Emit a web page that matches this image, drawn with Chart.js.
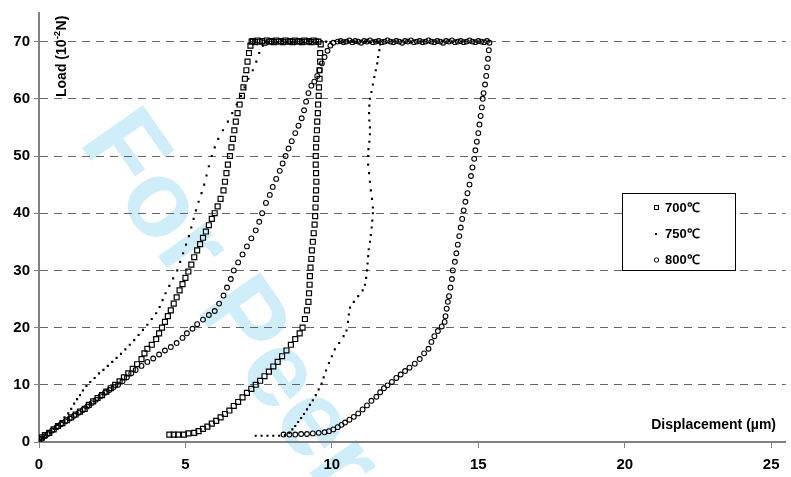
<!DOCTYPE html>
<html>
<head>
<meta charset="utf-8">
<script src="https://cdn.jsdelivr.net/npm/chart.js@4/dist/chart.umd.min.js"></script>
<style>
html,body{margin:0;padding:0;background:#fff;}
#c{display:block;}
</style>
</head>
<body>
<canvas id="c" width="791" height="477"></canvas>
<script>
// ---- Data (x = displacement µm, y = load 10^-2 N) ----
const seriesNames = ["700\u2103", "750\u2103", "800\u2103"];
const xTicks = [0, 5, 10, 15, 20, 25];
const yTicks = [0, 10, 20, 30, 40, 50, 60, 70];

const load700 = [[0,0.3],[0.1,0.8],[0.2,1.2],[0.35,1.6],[0.5,2.2],[0.65,2.8],[0.8,3.3],[0.95,3.8],[1.1,4.3],[1.25,4.8],[1.4,5.3],[1.56,5.8],[1.7,6.5],[1.85,7.1],[2.0,7.7],[2.15,8.2],[2.3,8.8],[2.45,9.4],[2.6,10.0],[2.75,10.6],[2.9,11.3],[3.05,12.0],[3.2,12.8],[3.35,13.6],[3.5,14.5],[3.6,15.5],[3.7,16.3],[3.85,17.0],[4.0,18.0],[4.1,19.0],[4.2,20.0],[4.3,21.0],[4.4,22.0],[4.5,23.0],[4.6,24.2],[4.7,25.3],[4.8,26.5],[4.9,27.6],[5.0,28.7],[5.1,29.8],[5.2,31.0],[5.3,32.3],[5.4,33.5],[5.5,34.6],[5.6,35.7],[5.7,36.8],[5.8,37.9],[5.9,39.0],[6.0,40.0],[6.1,41.2],[6.2,42.5],[6.3,44.0],[6.35,45.5],[6.4,47.0],[6.45,48.5],[6.52,50.0],[6.57,51.5],[6.62,53.0],[6.67,54.5],[6.72,56.0],[6.78,57.5],[6.85,59.0],[6.93,60.5],[6.98,62.0],[7.03,63.5],[7.08,65.0],[7.12,66.5],[7.17,68.0],[7.22,69.3],[7.26,70]];
const hold700 = [[7.3,70.1],[7.38,69.9],[7.46,70.2],[7.54,70.0],[7.62,70.1],[7.7,69.8],[7.78,70.2],[7.86,70.0],[7.94,70.1],[8.02,69.9],[8.1,70.2],[8.18,70.0],[8.26,70.1],[8.34,69.9],[8.42,70.2],[8.5,70.0],[8.58,70.1],[8.66,69.9],[8.74,70.2],[8.82,70.0],[8.9,70.1],[8.98,69.9],[9.06,70.2],[9.14,70.0],[9.22,70.1],[9.3,69.9],[9.38,70.2],[9.46,70.0],[9.54,70.0]];
const unload700 = [[9.62,69.5],[9.6,68],[9.6,66.5],[9.58,65],[9.58,63.5],[9.56,62],[9.55,60.5],[9.53,59],[9.52,57.5],[9.5,56],[9.49,54.5],[9.47,53],[9.46,51.5],[9.45,50],[9.45,48.5],[9.46,47],[9.47,45.5],[9.46,44],[9.45,42.5],[9.44,41],[9.43,39.5],[9.41,38],[9.38,36.5],[9.35,35],[9.32,33.5],[9.3,32],[9.27,30.5],[9.25,29],[9.24,27.5],[9.22,26],[9.2,24.5],[9.15,23],[9.08,21.5],[9.0,20.0],[8.9,19.0],[8.75,18.0],[8.6,17.0],[8.45,16.0],[8.3,15.0],[8.15,14.0],[8.0,13.2],[7.85,12.3],[7.7,11.5],[7.55,10.7],[7.4,10.0],[7.25,9.3],[7.1,8.6],[6.95,7.8],[6.8,7.0],[6.65,6.3],[6.5,5.5],[6.35,4.9],[6.2,4.3],[6.05,3.7],[5.9,3.2],[5.75,2.7],[5.6,2.3],[5.45,1.9],[5.3,1.6],[5.1,1.5],[4.95,1.3],[4.75,1.3],[4.6,1.3],[4.45,1.3]];

const load750 = [[0,0],[0.12,0.6],[0.25,1.1],[0.37,1.6],[0.5,2.3],[0.62,3.0],[0.75,3.6],[0.87,4.3],[1.0,5.0],[1.1,5.8],[1.2,6.7],[1.3,7.5],[1.4,8.2],[1.5,9.0],[1.62,9.8],[1.75,10.5],[1.9,11.2],[2.05,12.0],[2.2,12.6],[2.35,13.3],[2.5,14.0],[2.65,14.7],[2.8,15.4],[2.95,16.2],[3.1,17.0],[3.25,17.8],[3.4,18.7],[3.55,19.6],[3.7,20.5],[3.85,21.5],[4.0,22.5],[4.12,23.6],[4.22,24.8],[4.32,26.0],[4.45,27.3],[4.58,28.6],[4.72,30.0],[4.82,31.5],[4.92,33.0],[5.02,34.5],[5.12,36.0],[5.2,37.5],[5.28,39.0],[5.36,40.5],[5.45,42.0],[5.55,43.5],[5.64,45.0],[5.72,46.6],[5.8,48.2],[5.9,50.0],[6.0,51.5],[6.12,53.0],[6.28,54.5],[6.45,56.0],[6.6,57.5],[6.75,59.0],[6.9,60.5],[7.02,62.0],[7.15,63.5],[7.3,65.0],[7.42,66.5],[7.52,68.0],[7.65,69.3],[7.75,70]];
const hold750 = [[7.85,69.8],[8.0,70.0],[8.15,69.9],[8.3,70.1],[8.45,70.0],[8.6,69.9],[8.75,70.1],[8.9,70.0],[9.05,69.9],[9.2,70.1],[9.35,70.0],[9.5,69.9],[9.65,70.1],[9.8,70.0],[9.95,69.9],[10.1,70.1],[10.25,70.0],[10.4,69.9],[10.55,70.1],[10.7,70.0],[10.85,69.9],[11.0,70.1],[11.15,70.0],[11.3,69.9],[11.45,70.0],[11.58,69.9]];
const unload750 = [[11.65,69.5],[11.62,68.5],[11.58,67.3],[11.55,66.2],[11.5,65.0],[11.45,63.8],[11.4,62.5],[11.35,61.2],[11.3,60.0],[11.28,58.8],[11.27,57.5],[11.28,56.2],[11.3,55.0],[11.3,53.8],[11.28,52.5],[11.25,51.2],[11.24,50.0],[11.24,48.5],[11.27,47.0],[11.3,45.5],[11.33,44.0],[11.37,42.5],[11.4,41.0],[11.4,40.0],[11.38,38.7],[11.36,37.5],[11.33,36.2],[11.3,35.0],[11.26,33.7],[11.24,32.5],[11.22,31.2],[11.2,30.0],[11.17,28.7],[11.13,27.5],[11.05,26.5],[10.9,25.5],[10.75,24.5],[10.62,23.5],[10.58,22.3],[10.55,21.0],[10.5,19.5],[10.4,18.5],[10.25,17.3],[10.1,16.2],[10.0,15.0],[9.9,13.8],[9.8,12.5],[9.72,11.3],[9.65,10.2],[9.55,9.2],[9.45,8.2],[9.35,7.3],[9.25,6.5],[9.15,5.7],[9.05,4.9],[8.95,4.2],[8.85,3.5],[8.75,2.8],[8.65,2.2],[8.55,1.6],[8.4,1.2],[8.2,1.1],[8.0,1.1],[7.8,1.1],[7.6,1.1],[7.4,1.1]];

const load800 = [[0,0],[0.1,0.6],[0.2,1.0],[0.3,1.4],[0.45,2.0],[0.6,2.6],[0.75,3.1],[0.9,3.6],[1.05,4.1],[1.2,4.6],[1.35,5.1],[1.5,5.6],[1.65,6.2],[1.8,6.8],[1.95,7.4],[2.1,8.0],[2.25,8.6],[2.4,9.1],[2.55,9.6],[2.7,10.0],[2.85,10.6],[3.0,11.3],[3.15,12.0],[3.3,12.6],[3.5,13.3],[3.7,14.0],[3.9,14.6],[4.1,15.3],[4.3,16.0],[4.5,16.6],[4.7,17.3],[4.9,18.2],[5.05,19.0],[5.24,19.8],[5.4,20.6],[5.6,21.4],[5.8,22.2],[6.0,22.9],[6.15,24.2],[6.3,25.6],[6.42,27.0],[6.55,28.5],[6.65,30.0],[6.8,31.4],[6.95,32.8],[7.1,34.2],[7.25,35.6],[7.4,37.0],[7.52,38.5],[7.62,40.0],[7.75,41.8],[7.88,43.2],[7.98,44.6],[8.1,46.0],[8.22,47.4],[8.32,48.7],[8.42,50.0],[8.52,51.3],[8.63,52.6],[8.75,54.0],[8.86,55.3],[8.97,56.6],[9.05,58.0],[9.12,59.5],[9.2,61.0],[9.3,62.3],[9.4,63.0],[9.5,64.0],[9.58,65.0],[9.66,66.2],[9.75,67.3],[9.85,68.4],[9.95,69.3],[10.05,69.8],[10.2,70]];
const hold800 = [[10.3,70.1],[10.4,69.9],[10.5,70.0],[10.6,70.2],[10.7,69.9],[10.8,70.1],[10.9,70.0],[11.0,69.8],[11.1,70.1],[11.2,70.0],[11.3,70.2],[11.4,69.9],[11.5,70.0],[11.6,70.1],[11.7,69.9],[11.8,70.0],[11.9,70.2],[12.0,70.0],[12.1,69.9],[12.2,70.1],[12.3,70.0],[12.4,69.8],[12.5,70.1],[12.6,70.0],[12.7,70.2],[12.8,69.9],[12.9,70.0],[13.0,70.1],[13.1,69.9],[13.2,70.0],[13.3,70.2],[13.4,70.0],[13.5,69.9],[13.6,70.1],[13.7,70.0],[13.8,69.8],[13.9,70.1],[14.0,70.0],[14.1,70.2],[14.2,69.9],[14.3,70.0],[14.4,70.1],[14.5,69.9],[14.6,70.0],[14.7,70.2],[14.8,70.0],[14.9,69.9],[15.0,70.1],[15.1,70.0],[15.2,69.9],[15.3,70.1]];
const unload800 = [[15.38,69.8],[15.36,68.5],[15.33,67.0],[15.3,65.5],[15.27,64.0],[15.23,62.5],[15.18,61.0],[15.15,60.0],[15.12,58.5],[15.08,57.0],[15.04,55.5],[15.0,54.0],[14.95,52.5],[14.9,51.0],[14.86,49.5],[14.8,48.0],[14.75,46.5],[14.7,45.0],[14.63,43.5],[14.56,42.0],[14.5,40.5],[14.45,39.0],[14.4,37.5],[14.35,36.0],[14.3,34.5],[14.25,33.0],[14.2,31.5],[14.13,30.0],[14.1,28.5],[14.05,27.0],[14.0,25.5],[13.96,24.5],[13.92,23.3],[13.88,22.0],[13.85,21.0],[13.75,20.2],[13.62,19.4],[13.5,18.5],[13.4,17.5],[13.3,16.3],[13.15,15.5],[13.0,14.5],[12.83,13.7],[12.65,13.0],[12.5,12.4],[12.35,11.8],[12.2,11.2],[12.05,10.5],[11.9,9.9],[11.78,9.4],[11.65,8.7],[11.52,7.9],[11.35,7.2],[11.2,6.4],[11.05,5.7],[10.9,5.0],[10.75,4.4],[10.6,3.9],[10.45,3.4],[10.33,3.0],[10.2,2.6],[10.05,2.2],[9.9,1.9],[9.75,1.7],[9.55,1.6],[9.35,1.5],[9.15,1.4],[8.95,1.4],[8.75,1.3],[8.55,1.3],[8.35,1.3]];

const toPts = arrs => arrs.flat().map(p => ({x: p[0], y: p[1]}));

const FONT = '"Liberation Sans", Arial, sans-serif';

const extras = {
  id: 'extras',
  beforeDraw(chart) {
    const ctx = chart.ctx;
    ctx.save();
    ctx.fillStyle = '#fff';
    ctx.fillRect(0, 0, chart.width, chart.height);
    // watermark
    ctx.fillStyle = 'rgba(150,215,245,0.45)';
    ctx.font = 'bold 108px ' + FONT;
    ctx.translate(78, 142);
    ctx.rotate(55 * Math.PI / 180);
    ctx.textBaseline = 'alphabetic';
    ctx.fillText('For Peer Review', 0, 0);
    ctx.restore();
  },
  afterDraw(chart) {
    const ctx = chart.ctx;
    ctx.save();
    ctx.fillStyle = '#000';
    // x-axis title inside plot
    ctx.font = 'bold 14px ' + FONT;
    ctx.textAlign = 'right';
    ctx.textBaseline = 'middle';
    ctx.fillText('Displacement (\u00b5m)', 776, 425);
    // y-axis title (rotated) with superscript
    ctx.save();
    ctx.translate(66, 97);
    ctx.rotate(-Math.PI / 2);
    ctx.textAlign = 'left';
    ctx.textBaseline = 'alphabetic';
    ctx.font = 'bold 14px ' + FONT;
    let t1 = 'Load (10';
    ctx.fillText(t1, 0, 0);
    let w = ctx.measureText(t1).width;
    ctx.font = 'bold 9px ' + FONT;
    ctx.fillText('-2', w + 0.5, -6);
    w += ctx.measureText('-2').width + 1;
    ctx.font = 'bold 14px ' + FONT;
    ctx.fillText('N)', w, 0);
    ctx.restore();
    // legend box
    ctx.fillStyle = '#fff';
    ctx.fillRect(622, 193, 114, 78);
    ctx.strokeStyle = '#000';
    ctx.lineWidth = 1;
    ctx.strokeRect(622.5, 193.5, 113, 77);
    const rows = [208, 234, 260];
    ctx.font = 'bold 13px ' + FONT;
    ctx.textAlign = 'left';
    ctx.textBaseline = 'middle';
    chart.data.datasets.forEach((ds, i) => {
      const y = rows[i];
      ctx.strokeStyle = '#000';
      ctx.fillStyle = '#000';
      ctx.lineWidth = 1;
      if (i === 0) { ctx.strokeRect(654.5, y - 2.5, 4, 4); }
      else if (i === 1) { ctx.fillRect(655, y - 1, 2, 2); }
      else { ctx.beginPath(); ctx.arc(656.5, y, 2.2, 0, Math.PI * 2); ctx.stroke(); }
      ctx.fillStyle = '#000';
      ctx.fillText(ds.label, 665, y);
    });
    ctx.restore();
  }
};

new Chart(document.getElementById('c'), {
  type: 'scatter',
  data: {
    datasets: [
      { label: seriesNames[0], data: toPts([load700, hold700, unload700]), pointStyle: 'rect', pointRadius: 3.5, borderColor: '#000', backgroundColor: 'rgba(255,255,255,0)', borderWidth: 1.2 },
      { label: seriesNames[1], data: toPts([load750, hold750, unload750]), pointStyle: 'rect', pointRadius: 1.5, borderColor: '#000', backgroundColor: '#000', borderWidth: 0 },
      { label: seriesNames[2], data: toPts([load800, hold800, unload800]), pointStyle: 'circle', pointRadius: 2.4, borderColor: '#000', backgroundColor: 'rgba(255,255,255,0)', borderWidth: 1.1 }
    ]
  },
  options: {
    responsive: false,
    animation: false,
    devicePixelRatio: 1,
    layout: { padding: { top: 10, right: 1, left: 0, bottom: 0 } },
    plugins: { legend: { display: false }, tooltip: { enabled: false } },
    events: [],
    scales: {
      x: {
        type: 'linear', min: 0, max: 25.5,
        afterFit(s) { s.height = 35; },
        afterBuildTicks(s) { s.ticks = xTicks.map(v => ({ value: v })); },
        ticks: { font: { family: FONT, size: 15, weight: 'bold' }, color: '#000', padding: 8, maxRotation: 0 },
        grid: { drawOnChartArea: false, drawTicks: true, tickLength: 6, tickColor: '#808080', tickWidth: 1 },
        border: { display: true, color: '#808080', width: 2 }
      },
      y: {
        type: 'linear', min: 0, max: 75,
        afterFit(s) { s.width = 39; },
        afterBuildTicks(s) { s.ticks = yTicks.map(v => ({ value: v })); },
        ticks: { font: { family: FONT, size: 15, weight: 'bold' }, color: '#000', padding: 4 },
        grid: { drawOnChartArea: true, drawTicks: true, tickLength: 5, tickColor: '#808080', tickWidth: 1,
                color: c => (c.tick && c.tick.value === 0) ? 'rgba(0,0,0,0)' : '#666', lineWidth: 1 },
        border: { display: true, color: '#808080', width: 2, dash: [8, 6] }
      }
    }
  },
  plugins: [extras]
});
</script>
</body>
</html>
